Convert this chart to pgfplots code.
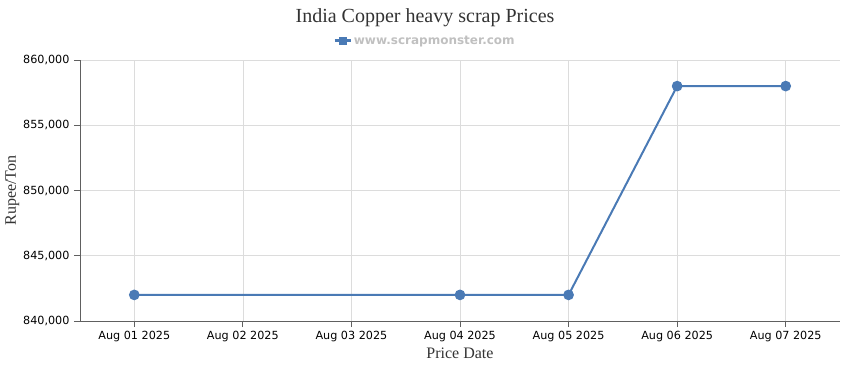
\documentclass[border=0pt]{standalone}
\usepackage{fontspec}
\setmainfont{Liberation Serif}
\newfontfamily\tickfont{DejaVu Sans}
\usepackage{pgfplots}
\pgfplotsset{compat=1.18}
\definecolor{lineblue}{HTML}{4A7AB5}
\definecolor{gridgrey}{HTML}{DCDCDC}
\definecolor{axisgrey}{HTML}{606060}
\definecolor{titlegrey}{HTML}{333333}
\definecolor{leggrey}{HTML}{C0C0C0}
\begin{document}
\begin{tikzpicture}
\useasboundingbox (-80pt,-49pt) rectangle (770pt,321pt);
\begin{axis}[
  scale only axis,
  width=760pt, height=261pt,
  at={(0pt,0pt)}, anchor=south west,
  xmin=-0.5, xmax=6.5,
  ymin=840000, ymax=860000,
  xtick={0,1,2,3,4,5,6},
  xticklabels={Aug 01 2025,Aug 02 2025,Aug 03 2025,Aug 04 2025,Aug 05 2025,Aug 06 2025,Aug 07 2025},
  ytick={840000,845000,850000,855000,860000},
  scaled y ticks=false,
  /pgf/number format/fixed,
  /pgf/number format/1000 sep={,},
  /pgf/number format/assume math mode=true,
  ticklabel style={font=\tickfont\fontsize{11.2}{13}\selectfont, text=black},
  yticklabel style={xshift=-1pt},
  xticklabel style={yshift=-1pt},
  axis lines=left,
  axis line style={-, axisgrey, line width=0.8pt},
  tick align=outside,
  major tick length=6pt,
  tick style={axisgrey, line width=0.8pt},
  grid=major,
  major grid style={gridgrey, line width=0.6pt},
  xlabel={Price Date},
  ylabel={Rupee/Ton},
  label style={font=\fontsize{16}{18}\selectfont, text=titlegrey},
  xlabel style={yshift=1pt},
  ylabel style={yshift=-3pt},
  title={India Copper heavy scrap Prices},
  title style={font=\fontsize{20}{22}\selectfont, text=titlegrey, at={(0.454,1)}, anchor=center, yshift=36pt},
  legend style={at={(0.454,1.074)}, anchor=center, draw=none, fill=none,
    font=\tickfont\bfseries\fontsize{12}{14}\selectfont, text=leggrey,
    inner sep=0pt},
  legend image code/.code={
    \draw[lineblue, line width=2.5pt] (0pt,0pt) -- (16pt,0pt);
    \fill[lineblue] (5pt,-3pt) rectangle (11pt,3pt);
  },
  legend cell align=left,
]
\addplot[lineblue, line width=2pt, mark=*, mark size=4.3pt, mark options={fill=lineblue, draw=none}]
  coordinates {(0,842000) (3,842000) (4,842000) (5,858000) (6,858000)};
\addlegendentry{www.scrapmonster.com}
\end{axis}
\end{tikzpicture}
\end{document}
